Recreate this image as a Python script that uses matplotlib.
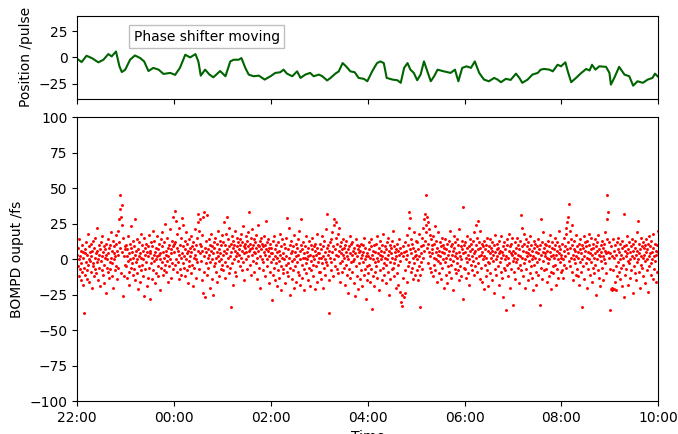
import numpy as np
import pandas as pd
import matplotlib
matplotlib.use("Agg")
import matplotlib.pyplot as plt
import matplotlib.dates as mdates

# --- Data ---
START = pd.Timestamp("2021-06-14 22:00")

# phase shifter position, hours after 22:00 and position in pulses
pos_hours = [0.00, 0.09, 0.19, 0.30, 0.435, 0.54, 0.64, 0.71, 0.80, 0.87, 0.92, 0.99,
             1.09, 1.19, 1.30, 1.38, 1.47, 1.57, 1.68, 1.78, 1.92, 2.02, 2.12, 2.23,
             2.33, 2.44, 2.50, 2.55, 2.64, 2.73, 2.81, 2.95, 3.06, 3.16, 3.23, 3.33,
             3.39, 3.47, 3.54, 3.64, 3.75, 3.87, 3.99, 4.09, 4.19, 4.26, 4.33, 4.44,
             4.54, 4.61, 4.71, 4.81, 4.88, 4.99, 5.06, 5.16, 5.23, 5.33, 5.40, 5.48,
             5.55, 5.64, 5.73, 5.81, 5.92, 5.99, 6.09, 6.19, 6.26, 6.33, 6.39, 6.51,
             6.61, 6.68, 6.75, 6.82, 6.88, 6.95, 7.02, 7.09, 7.16, 7.23, 7.30, 7.37,
             7.44, 7.57, 7.71, 7.80, 7.87, 7.95, 8.04, 8.13, 8.21, 8.30, 8.40, 8.50,
             8.61, 8.68, 8.75, 8.85, 8.95, 9.06, 9.13, 9.19, 9.30, 9.40, 9.51, 9.57,
             9.64, 9.75, 9.82, 9.92, 9.99, 10.08, 10.13, 10.20, 10.30, 10.41, 10.51, 10.58,
             10.63, 10.70, 10.78, 10.92, 10.99, 11.02, 11.09, 11.19, 11.30, 11.40, 11.48, 11.57,
             11.68, 11.78, 11.88, 11.93, 12.00]
pos_values = [-1.5, -4.4, 1.6, -0.6, -4.7, -2.2, 3.2, 1.0, 5.7, -8.5, -14.0, -11.7,
              -2.2, 1.9, -0.6, -3.8, -13.0, -10.0, -11.7, -15.8, -14.8, -16.7, -10.0, 2.6,
              0.0, 3.2, -3.8, -17.4, -11.7, -16.4, -19.0, -13.0, -18.0, -3.8, -2.2, -2.2,
              -0.6, -10.0, -16.4, -18.0, -17.4, -21.2, -18.0, -14.8, -14.2, -11.7, -15.5, -18.0,
              -13.3, -19.6, -16.4, -14.8, -18.0, -16.4, -18.0, -22.0, -19.6, -15.5, -13.3, -5.4,
              -8.5, -13.3, -14.2, -19.6, -20.5, -22.8, -13.3, -5.4, -3.8, -5.4, -19.6, -21.2,
              -21.8, -24.3, -10.0, -5.4, -11.7, -14.8, -21.8, -16.4, -3.8, -13.3, -22.8, -18.0,
              -11.7, -13.3, -14.8, -11.7, -22.8, -10.0, -8.5, -10.0, -3.8, -14.8, -21.2, -22.8,
              -19.6, -21.2, -23.7, -20.5, -21.5, -15.5, -19.6, -24.3, -21.2, -16.4, -14.8, -11.7,
              -11.0, -11.7, -13.3, -7.0, -8.5, -4.7, -13.3, -23.7, -19.6, -14.8, -11.0, -12.5,
              -7.0, -11.7, -8.5, -9.0, -14.8, -26.0, -19.6, -9.0, -16.4, -18.0, -27.0, -22.8,
              -24.3, -21.2, -19.6, -15.5, -18.7]

# BOMPD output in fs, one value every 30 s, one list per hour
bompd_22 = [3, -5, 8, -12, 0, 14, -7, 2, -15, 6, -3, 10, -9, 1, -18, 5, -6, -38, 4, -11,
            7, -2, 12, -14, 3, -8, 18, -4, 0, 9, -16, 5, -1, 11, -9, 2, -20, 6, -5, 13,
            -3, 8, -12, 1, 15, -7, 4, -10, 22, -2, 6, -15, 0, 10, -6, 3, -19, 7, -1, 12,
            -8, 2, 16, -11, 5, -4, 9, -17, 1, 7, -24, 3, 11, -6, 0, 14, -9, 4, -13, 8,
            -2, 10, -7, 19, 1, -12, 6, -3, 13, -20, 4, 0, 9, -8, 2, 17, -5, 11, -14, 6,
            3, 20, -6, 28, 12, 35, 45, 8, 30, -10, 24, 38, 5, -26, 15, 2, -12, 9, -4, 7]
bompd_23 = [-5, 10, 2, -13, 7, -1, 16, -9, 4, -18, 11, 0, -6, 8, 23, -3, 5, -11, 13, 1,
            -7, 9, -15, 3, 28, -2, 6, -10, 14, 0, -21, 7, 2, -5, 12, -16, 4, 18, -8, 1,
            10, -4, 6, -12, 0, 15, -26, 3, 8, -7, 11, -2, -19, 5, 9, -13, 2, 17, -6, 4,
            -28, 6, 12, -3, 1, -14, 9, 20, -8, 3, -1, 13, -17, 5, 0, 8, -10, 16, 2, -5,
            7, -12, 3, 11, -22, 4, 0, 14, -6, 9, -2, 19, -11, 5, 1, -8, 12, -4, 25, 3,
            -9, 6, 15, -1, 8, -16, 2, 10, -5, 21, 0, -13, 7, 4, 13, -3, 30, 9, -7, 11]
bompd_00 = [5, 34, -4, 12, 0, 27, -9, 8, 18, -2, 6, -14, 22, 3, -7, 10, 1, -11, 15, 4,
            29, -3, 9, 24, -6, 2, 13, -12, 7, 0, 19, -8, 4, 11, -17, 6, -1, 14, -5, 8,
            2, -10, 16, 5, -4, 9, -19, 12, 1, 7, -6, 21, 3, -13, 10, 0, 15, -2, 26, 6,
            32, 20, -7, 11, 28, 4, -1, 9, -15, 17, 6, -24, 30, 2, -9, 33, -27, 8, 13, -3,
            5, 31, -11, 7, 1, -6, 14, 3, -20, 10, -2, 18, 6, -14, 0, 9, -25, 4, 12, -5,
            8, -3, 15, 1, -9, 11, 5, -16, 2, 20, -1, 7, -12, 13, 4, -7, 10, 0, 17, -4]
bompd_01 = [3, 12, -8, 6, 26, -2, 10, -13, 4, 18, 30, 7, -5, 14, 1, 22, -10, 9, 2, -6,
            11, -34, 5, 16, -3, 8, -18, 13, 0, 10, -9, 6, 20, 2, -12, 15, 4, 9, -1, 12,
            7, 3, 14, -5, 10, 18, 1, -8, 12, 6, 23, -2, 9, 4, -15, 11, 8, 16, 0, 5,
            13, -7, 9, 2, 19, 6, 33, -4, 11, 7, -11, 15, 3, 8, 21, -1, 10, 5, -9, 14,
            4, 12, -3, 17, 8, 1, -14, 10, 6, 24, -6, 9, 2, 13, -20, 7, 15, 0, 11, -2,
            9, -8, 5, 16, 3, 10, -12, 7, 27, 0, 12, -5, 6, 14, -17, 8, 2, -9, 11, 4]
bompd_02 = [-2, 8, -29, 4, -11, 13, 0, -6, 16, 2, -15, 7, -3, 10, -19, 5, 1, -8, 12, -1,
            6, -13, 3, 18, -5, 9, -22, 1, 14, -7, 4, -10, 11, 0, -17, 8, -4, 15, 2, -9,
            29, -3, 7, -12, 22, 1, -6, 10, -25, 4, 13, -1, -14, 6, 9, -8, 17, 0, -20, 5,
            -5, 11, 2, -16, 8, -2, 14, -9, 3, 20, -11, 6, 0, -18, 10, 28, -4, 7, -13, 1,
            12, -7, 4, -22, 9, 1, -3, 16, -10, 5, 0, -15, 8, 2, -6, 13, -19, 3, 10, -1,
            -8, 7, 15, -4, 2, -12, 9, 0, -21, 6, 11, -5, 3, -16, 8, 18, -2, 4, -9, 1]
bompd_03 = [4, -9, 11, 1, -14, 7, -3, 16, -20, 2, 9, -6, 13, 0, -11, 5, 21, -2, 8, 32,
            -4, 10, 3, -15, 6, -38, 12, 1, -8, 14, -2, 19, 5, -12, 9, 24, 0, 28, 7, -5,
            15, 3, 26, -7, 11, 2, 18, -10, 6, 22, -3, 9, -16, 4, 12, -1, 7, -9, 3, 14,
            -6, 8, 1, -18, 10, -4, 5, 13, -11, 2, -24, 7, 0, 9, -7, 16, -13, 4, -2, 11,
            3, -9, 12, -1, 6, -17, 8, 0, -26, 4, 14, -5, 10, -12, 2, 7, -21, 5, -3, 9,
            -14, 6, 1, 11, -8, 3, -19, 10, -2, 5, -11, 15, 0, -7, 8, -28, 2, -15, 4, -5]
bompd_04 = [2, -10, 7, -4, 12, -16, 1, 9, -7, 14, -35, 3, -12, 6, 0, -19, 10, -2, 5, -9,
            11, -5, 1, 16, -13, 4, -1, 8, -22, 3, 13, -8, 6, 0, -15, 10, 2, -6, 18, -3,
            5, -11, 9, 1, -17, 7, -4, 12, 0, -9, 15, 3, -25, 6, -2, 10, -14, 4, 8, -7,
            1, 13, -6, 20, -3, 9, -12, 5, 0, -20, 7, 2, -10, 11, -4, 6, -18, 3, 14, -1,
            -23, 8, -30, 4, -25, -33, 2, -13, 9, -27, 5, -8, 12, -24, 0, 6, -16, 3, 17, -5,
            10, 33, -2, 22, 7, 29, -9, 14, 4, -6, 11, 1, -14, 8, 19, -3, 6, -11, 2, 13]
bompd_05 = [3, -8, 12, 0, -15, 7, 2, -5, 18, -11, -34, 9, 4, -2, 15, -7, 10, 1, 22, 6,
            28, 13, 32, 24, 45, 19, 8, 30, -3, 26, 11, 21, 5, -6, 17, 2, 14, -9, 10, 4,
            7, -12, 16, 1, -4, 11, 23, -8, 5, 0, 13, -16, 8, 3, -1, 19, -10, 6, 12, -3,
            2, 9, -14, 5, 15, -6, 0, 10, -20, 4, 8, -2, 14, -11, 1, 7, -17, 11, 3, -5,
            6, -9, 13, 0, 20, -4, 9, -13, 3, 11, -1, 6, -22, 8, 16, -7, 2, 12, -10, 4,
            -3, 14, 1, -8, 10, 5, -15, 21, 2, -5, 9, 0, -12, 7, 13, 37, -28, 4, -6, 10]
bompd_06 = [5, -7, 12, 1, -13, 8, -2, 16, 3, -10, 9, 0, -18, 6, 14, -4, 11, 2, -8, 7,
            -1, 13, 4, -11, 19, 6, -5, 10, 24, 1, -9, 15, 7, 27, -3, 12, 2, -14, 8, 20,
            3, -6, 11, -16, 5, 0, 9, -21, 13, 2, -4, 7, -12, 10, 1, -8, 15, -2, 6, -19,
            9, -3, 4, 14, -10, 1, 8, -15, 6, 12, -1, 3, -24, 10, 5, -7, 17, 0, -11, 7,
            2, 11, -5, 8, -18, 4, 13, -2, 6, -9, 1, 16, -13, 5, 9, -27, 3, -6, 12, 0,
            -8, 7, 2, -36, 10, -4, 14, 1, -12, 6, 18, -3, 9, -20, 4, 11, -7, 3, 15, -1]
bompd_07 = [-32, 6, 1, -9, 12, 4, -14, 8, -2, 15, 0, -6, 10, 3, -17, 7, -4, 13, 2, 31,
            -8, 9, 22, 1, -12, 6, 18, -3, 11, 0, -20, 5, 14, -7, 2, 9, -15, 4, 12, -1,
            7, -10, 3, 16, -5, 10, 0, -13, 6, 2, -22, 8, 13, -4, 1, 11, -9, 5, -18, 9,
            -2, 14, 4, -11, 7, 0, -32, 10, 28, -6, 3, 12, -14, 5, 19, -1, 8, -8, 2, 11,
            4, -7, 10, 1, -16, 6, 13, -3, 9, -12, 0, 17, 5, -9, 2, -21, 8, 12, -5, 3,
            -10, 7, 1, 15, -4, 10, -18, 3, 6, -7, 12, 0, -13, 9, 4, 20, -2, 7, -9, 1]
bompd_08 = [3, -8, 11, 0, -13, 6, 15, -4, 9, 2, 22, -6, 18, 7, 26, 12, 30, 4, 39, -1,
            20, 8, -5, 14, 1, 24, -9, 10, 3, -15, 7, 0, 13, -3, 6, -11, 17, 2, -7, 9,
            5, -12, 1, 11, -18, 7, -2, 14, 4, -9, 10, -34, 0, 8, -5, 16, 2, -14, 6, 12,
            -3, 9, 1, -20, 13, 5, -7, 10, 0, 18, -11, 4, 7, -2, 15, -16, 3, 11, -6, 8,
            1, -10, 14, 4, -4, 9, -25, 6, 12, 0, -8, 17, 3, -13, 7, 2, -19, 10, -1, 5,
            13, -6, 2, 8, -15, 11, 0, 19, -3, 6, -10, 4, 14, 28, 45, 33, 5, 1, 12, -7]
bompd_09 = [4, -36, -21, 9, -22, 2, -20, 14, -8, -21, 6, 1, -16, 10, -22, 3, -5, 12, -12, 7,
            -2, 15, -9, 5, 0, -14, 11, 3, -6, 8, -19, 13, 1, -4, 9, 32, -27, 6, -11, 2,
            10, -7, 4, 16, -1, -18, 7, 12, -3, 5, -13, 0, 9, -8, 14, 2, -24, 6, 11, -5,
            1, 8, -10, 13, 3, -15, 6, 19, -2, 27, 0, -9, 11, 4, -20, 7, 15, -4, 2, 9,
            -6, 12, 1, -12, 8, 3, -17, 10, -1, 5, 14, -8, 0, 7, -23, 11, 2, -5, 16, 4,
            9, -3, 13, -11, 5, 0, -14, 8, 18, 2, -7, 11, -1, 6, -16, 3, 10, -9, 20, 5]

bompd_values = (bompd_22 + bompd_23 + bompd_00 + bompd_01 + bompd_02 + bompd_03
                + bompd_04 + bompd_05 + bompd_06 + bompd_07 + bompd_08 + bompd_09)

# --- Build time axes ---
pos_time = START + pd.to_timedelta(pos_hours, unit="h")
bompd_time = pd.date_range(START, periods=len(bompd_values), freq="30s")

# --- Plot ---
fig, (ax1, ax2) = plt.subplots(2, 1, sharex=True, figsize=(6.78, 4.34), dpi=100,
                               gridspec_kw={"height_ratios": [83.6, 283.7]})
fig.subplots_adjust(left=0.114, right=0.971, top=0.964, bottom=0.076, hspace=0.098)

ax1.plot(pos_time, pos_values, color="darkgreen", linewidth=1.5)
ax1.set_ylim(-40, 40)
ax1.set_yticks([-25, 0, 25])
ax1.set_ylabel("Position /pulse")
ax1.text(0.097, 0.75, "Phase shifter moving", transform=ax1.transAxes,
         ha="left", va="center", fontsize=10,
         bbox=dict(boxstyle="square,pad=0.3", facecolor="white", edgecolor="0.75"))

ax2.scatter(bompd_time, bompd_values, s=4.5, color="red", linewidths=0)
ax2.set_ylim(-100, 100)
ax2.set_ylabel("BOMPD ouput /fs")
ax2.set_xlabel("Time")

ax2.set_xlim(START, START + pd.Timedelta(hours=12))
ax2.xaxis.set_major_locator(mdates.HourLocator(byhour=range(0, 24, 2)))
ax2.xaxis.set_major_formatter(mdates.DateFormatter("%H:%M"))

fig.savefig("out.png", dpi=100)
